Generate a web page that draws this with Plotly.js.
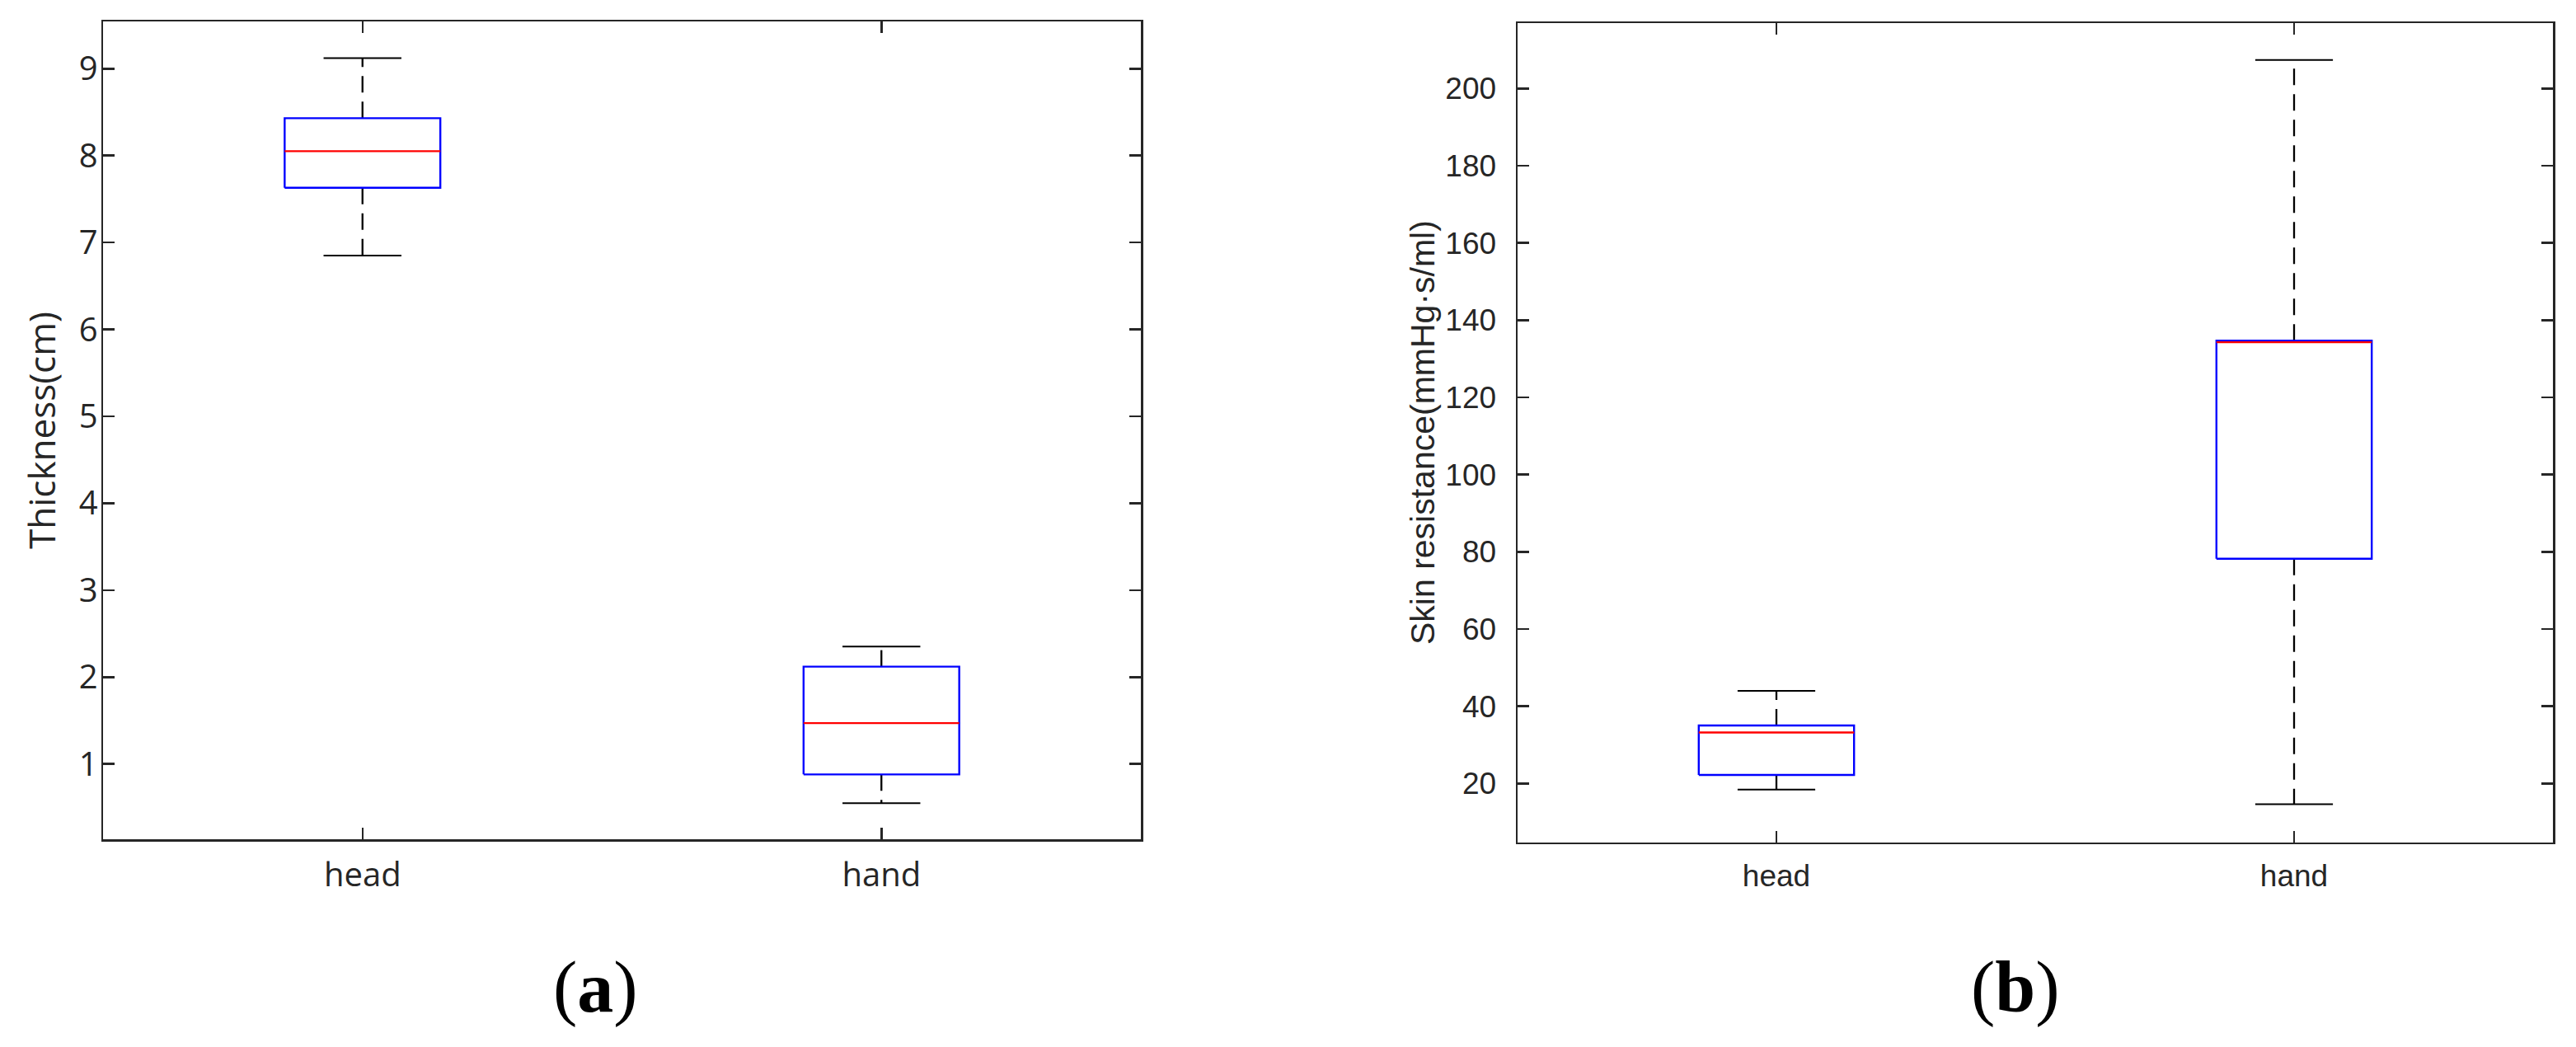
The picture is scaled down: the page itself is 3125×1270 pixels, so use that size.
<!DOCTYPE html>
<html>
<head>
<meta charset="utf-8">
<script src="https://cdn.plot.ly/plotly-3.0.1.min.js"></script>
<style>html,body{margin:0;padding:0;background:#fff;}#chart{width:3125px;height:1270px;}</style>
</head>
<body>
<div id="chart"></div>
<script>
// ---- data ----
const categories = ['head', 'hand'];
const positions = [1, 2];

// (a) Thickness (cm)
const thickLower  = [6.85, 0.55];
const thickQ1     = [7.63, 0.88];
const thickMedian = [8.05, 1.47];
const thickQ3     = [8.43, 2.12];
const thickUpper  = [9.12, 2.35];

// (b) Skin resistance (mmHg·s/ml)
const resLower  = [18.4, 14.6];
const resQ1     = [22.2, 78.2];
const resMedian = [33.2, 134.3];
const resQ3     = [35.0, 134.7];
const resUpper  = [44.0, 207.4];

const thickTicks = [1, 2, 3, 4, 5, 6, 7, 8, 9];
const resTicks = [20, 40, 60, 80, 100, 120, 140, 160, 180, 200];

// ---- styling ----
const BOX_HALF = 0.15, CAP_HALF = 0.075;
const AX = '#262626';

function boxTraces(lower, q1, med, q3, upper, xa, ya) {
  const tr = [];
  positions.forEach((p, i) => {
    // whiskers (dashed)
    tr.push({type: 'scatter', mode: 'lines', xaxis: xa, yaxis: ya, hoverinfo: 'skip',
      x: [p, p], y: [q3[i], upper[i]], line: {color: '#000', width: 2.3, dash: '20px,11px'}});
    tr.push({type: 'scatter', mode: 'lines', xaxis: xa, yaxis: ya, hoverinfo: 'skip',
      x: [p, p], y: [q1[i], lower[i]], line: {color: '#000', width: 2.3, dash: '20px,11px'}});
    // caps
    tr.push({type: 'scatter', mode: 'lines', xaxis: xa, yaxis: ya, hoverinfo: 'skip',
      x: [p - CAP_HALF, p + CAP_HALF], y: [upper[i], upper[i]], line: {color: '#000', width: 2}});
    tr.push({type: 'scatter', mode: 'lines', xaxis: xa, yaxis: ya, hoverinfo: 'skip',
      x: [p - CAP_HALF, p + CAP_HALF], y: [lower[i], lower[i]], line: {color: '#000', width: 2}});
    // box
    tr.push({type: 'scatter', mode: 'lines', xaxis: xa, yaxis: ya, name: categories[i],
      x: [p - BOX_HALF, p + BOX_HALF, p + BOX_HALF, p - BOX_HALF, p - BOX_HALF],
      y: [q1[i], q1[i], q3[i], q3[i], q1[i]], line: {color: '#0000ff', width: 2.4}});
    // median
    tr.push({type: 'scatter', mode: 'lines', xaxis: xa, yaxis: ya, hoverinfo: 'skip',
      x: [p - BOX_HALF, p + BOX_HALF], y: [med[i], med[i]], line: {color: '#ff0000', width: 2.4}});
  });
  return tr;
}

const data = [].concat(
  boxTraces(thickLower, thickQ1, thickMedian, thickQ3, thickUpper, 'x', 'y'),
  boxTraces(resLower, resQ1, resMedian, resQ3, resUpper, 'x2', 'y2')
);

const W = 3125, H = 1270;
const px = v => v / W, py = v => 1 - v / H;

function xAxis(domain, family, size) {
  return {domain: domain, range: [0.5, 2.5], tickvals: positions, ticktext: categories,
    showline: true, mirror: 'ticks', linecolor: AX, linewidth: 2.5,
    ticks: 'inside', ticklen: 14, tickwidth: 2.5, tickcolor: AX,
    showgrid: false, zeroline: false, fixedrange: true, ticklabelstandoff: 6,
    tickfont: {family: family, size: size, color: AX}};
}
function yAxis(domain, range, ticks, family, size, anchor, standoff) {
  return {domain: domain, range: range, tickvals: ticks, anchor: anchor,
    showline: true, mirror: 'ticks', linecolor: AX, linewidth: 2.5,
    ticks: 'inside', ticklen: 14, tickwidth: 2.5, tickcolor: AX,
    showgrid: false, zeroline: false, fixedrange: true, ticklabelstandoff: standoff,
    tickfont: {family: family, size: size, color: AX}};
}

const leftFont = 'Open Sans, Noto Sans, sans-serif';
const rightFont = 'Liberation Sans, Arial, sans-serif';

const layout = {
  width: W, height: H,
  margin: {l: 0, r: 0, t: 0, b: 0},
  paper_bgcolor: '#fff', plot_bgcolor: '#fff',
  showlegend: false,
  xaxis: Object.assign(xAxis([px(125), px(1384)], leftFont, 40), {anchor: 'y'}),
  yaxis: yAxis([py(1018), py(26)], [0.134, 9.543], thickTicks, leftFont, 40, 'x', -4),
  xaxis2: Object.assign(xAxis([px(1841), px(3097)], rightFont, 37), {anchor: 'y2'}),
  yaxis2: yAxis([py(1021.7), py(28.3)], [4.75, 216.9], resTicks, rightFont, 37, 'x2', 16),
  annotations: [
    {text: 'Thickness(cm)', xref: 'paper', yref: 'paper', x: px(50), y: py(522),
     xanchor: 'center', yanchor: 'middle', textangle: -90, showarrow: false,
     font: {family: leftFont, size: 44, color: AX}},
    {text: 'Skin resistance(mmHg·s/ml)', xref: 'paper', yref: 'paper', x: px(1726), y: py(525),
     xanchor: 'center', yanchor: 'middle', textangle: -90, showarrow: false,
     font: {family: rightFont, size: 41, color: AX}},
    {text: '(<b>a</b>)', xref: 'paper', yref: 'paper', x: px(722), y: py(1197),
     xanchor: 'center', yanchor: 'middle', showarrow: false,
     font: {family: 'Liberation Serif, Times New Roman, serif', size: 88, color: '#000'}},
    {text: '(<b>b</b>)', xref: 'paper', yref: 'paper', x: px(2445), y: py(1197),
     xanchor: 'center', yanchor: 'middle', showarrow: false,
     font: {family: 'Liberation Serif, Times New Roman, serif', size: 88, color: '#000'}}
  ]
};

Plotly.newPlot('chart', data, layout, {staticPlot: true, displayModeBar: false});
</script>
</body>
</html>
